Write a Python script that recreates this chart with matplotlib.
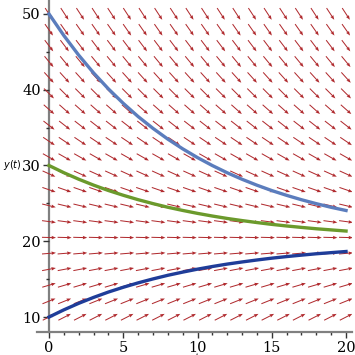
import numpy as np
import matplotlib
matplotlib.use("Agg")
import matplotlib.pyplot as plt

# Direction field grid (columns in t, rows in y) and slope read for each row
field_t = np.linspace(0, 20, 20)
field_y = [10.0, 12.1, 14.2, 16.3, 18.4, 20.5, 22.6, 24.7, 26.8, 28.9,
           31.1, 33.2, 35.3, 37.4, 39.5, 41.6, 43.7, 45.8, 47.9, 50.0]
field_slope = [1.0, 0.79, 0.58, 0.37, 0.16, -0.05, -0.26, -0.47, -0.68, -0.89,
               -1.11, -1.32, -1.53, -1.74, -1.95, -2.16, -2.37, -2.58, -2.79, -3.0]

# Solution curves, values read at t = 0, 1, ..., 20
t_vals = list(range(21))
y_from_50 = [50.0, 47.15, 44.56, 42.22, 40.11, 38.20, 36.46, 34.90, 33.48, 32.20, 31.04,
             29.99, 29.04, 28.18, 27.40, 26.69, 26.06, 25.48, 24.96, 24.48, 24.06]
y_from_30 = [30.0, 29.05, 28.19, 27.41, 26.70, 26.07, 25.49, 24.97, 24.49, 24.07, 23.68,
             23.33, 23.01, 22.73, 22.47, 22.23, 22.02, 21.83, 21.65, 21.50, 21.35]
y_from_10 = [10.0, 10.95, 11.81, 12.59, 13.30, 13.93, 14.51, 15.03, 15.51, 15.93, 16.32,
             16.67, 16.99, 17.27, 17.53, 17.77, 17.98, 18.17, 18.35, 18.50, 18.65]

xlim = (-0.8, 20.4)
ylim = (8, 51.8)

fig = plt.figure(figsize=(3.55, 3.55), dpi=100)
ax = fig.add_axes([0.1045, 0.0642, 0.887, 0.935])
ax.set_xlim(*xlim)
ax.set_ylim(*ylim)

# arrows: fixed screen length, direction taken from slope in screen space
bbox = ax.get_position()
px_per_t = bbox.width * 355 / (xlim[1] - xlim[0])
px_per_y = bbox.height * 355 / (ylim[1] - ylim[0])
T, Y = np.meshgrid(field_t, field_y)
S = np.repeat(np.array(field_slope)[:, None], len(field_t), axis=1)
dx = np.full_like(S, px_per_t)
dy = S * px_per_y
n = np.hypot(dx, dy)
U, V = dx / n, dy / n
ax.quiver(T, Y, U, V, color="#b02a2e", pivot="middle", angles="uv",
          scale_units="inches", scale=1 / 0.14, width=0.0032,
          headwidth=3.5, headlength=4.5, headaxislength=4.0, zorder=2)

ax.plot(t_vals, y_from_50, color="#5b7dbd", lw=2.4, zorder=3)
ax.plot(t_vals, y_from_30, color="#6b9a2c", lw=2.4, zorder=3)
ax.plot(t_vals, y_from_10, color="#1f3d99", lw=2.4, zorder=3)

# Maple-like axes
for s in ["top", "right"]:
    ax.spines[s].set_visible(False)
ax.spines["left"].set_position(("data", 0))
ax.spines["left"].set_color("#808080")
ax.spines["bottom"].set_color("#808080")
ax.spines["left"].set_linewidth(1.6)
ax.spines["bottom"].set_linewidth(1.6)
ax.spines["left"].set_zorder(1)

ax.set_xticks([0, 5, 10, 15, 20])
ax.set_xticks(range(0, 21), minor=True)
ax.set_yticks([10, 20, 30, 40, 50])
ax.set_yticks([15, 25, 35, 45], minor=True)
ax.tick_params(which="major", length=4, width=1, color="#333333",
               labelsize=10.5, pad=2)
ax.tick_params(which="minor", length=2, width=1, color="#333333")
for lab in ax.get_xticklabels() + ax.get_yticklabels():
    lab.set_family("DejaVu Serif")

fig.text(0.008, 0.535, "$y(t)$", fontsize=7, family="DejaVu Serif", va="center")
# axis label sits at the very bottom edge, mostly cut off as in the original
fig.text(0.555, 0.011, "$t$", fontsize=7, ha="center", va="top")

fig.savefig("out.png", dpi=100)
